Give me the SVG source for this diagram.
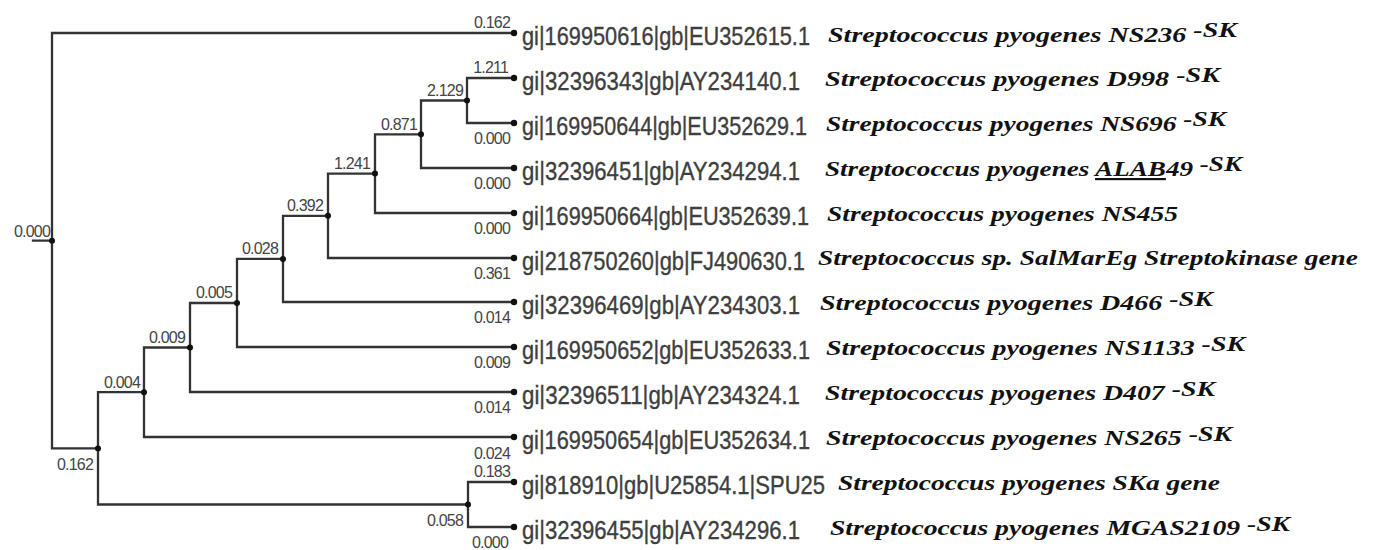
<svg xmlns="http://www.w3.org/2000/svg" width="1373" height="550" viewBox="0 0 1373 550">
<style>
.br{fill:none;stroke:#333;stroke-width:2.3;stroke-linecap:square}
.dot{fill:#111}
.bl{font-family:"Liberation Sans",Arial,sans-serif;font-size:16px;fill:#444;letter-spacing:-0.8px;text-anchor:end}
.id{font-family:"Liberation Sans",Arial,sans-serif;font-size:25px;fill:#3e3e3e;stroke:#3e3e3e;stroke-width:0.35}
.sp{font-family:"Liberation Serif","Times New Roman",serif;font-size:22px;font-weight:bold;font-style:italic;fill:#111}
</style>
<rect width="1373" height="550" fill="#fff"/>
<g id="connectors">
<path class="br" d="M33,240.7H52 M52,33V448.4 M52,33H513 M52,448.4H98
M98,392.2V504.5 M98,392.2H144 M98,504.5H468
M144,347.5V437 M144,347.5H190 M144,437H513
M190,303V392 M190,303H237 M190,392H513
M237,258.9V347 M237,258.9H283 M237,347H513
M283,215.8V302 M283,215.8H328 M283,302H513
M328,173.6V258 M328,173.6H375 M328,258H513
M375,134.3V213 M375,134.3H421 M375,213H513
M421,100.5V168 M421,100.5H467 M421,168H513
M467,78V123 M467,78H513 M467,123H513
M468,482V527 M468,482H513 M468,527H513"/>
</g>
<g id="root"><circle class="dot" cx="52" cy="240.7" r="3"/><text class="bl" x="50" y="237">0.000</text></g>
<g id="nodeA"><circle class="dot" cx="98" cy="448.4" r="3"/><text class="bl" x="93" y="470">0.162</text></g>
<g id="nodeB"><circle class="dot" cx="144" cy="392.2" r="3"/><text class="bl" x="140" y="388">0.004</text></g>
<g id="nodeC"><circle class="dot" cx="190" cy="347.5" r="3"/><text class="bl" x="185" y="343">0.009</text></g>
<g id="nodeD"><circle class="dot" cx="237" cy="303" r="3"/><text class="bl" x="232" y="298">0.005</text></g>
<g id="nodeE"><circle class="dot" cx="283" cy="258.9" r="3"/><text class="bl" x="278" y="254">0.028</text></g>
<g id="nodeF"><circle class="dot" cx="328" cy="215.8" r="3"/><text class="bl" x="323" y="211">0.392</text></g>
<g id="nodeG"><circle class="dot" cx="375" cy="173.6" r="3"/><text class="bl" x="370" y="169">1.241</text></g>
<g id="nodeH"><circle class="dot" cx="421" cy="134.3" r="3"/><text class="bl" x="417" y="130">0.871</text></g>
<g id="nodeI"><circle class="dot" cx="467" cy="100.5" r="3"/><text class="bl" x="463" y="96">2.129</text></g>
<g id="nodeL"><circle class="dot" cx="468" cy="504.5" r="3"/><text class="bl" x="463" y="526">0.058</text></g>

<g id="leaf1"><circle class="dot" cx="514" cy="33" r="3.2"/><text class="bl" x="510" y="28">0.162</text>
<text class="id" x="522" y="45" textLength="288" lengthAdjust="spacingAndGlyphs">gi|169950616|gb|EU352615.1</text>
<text class="sp" x="828" y="42" textLength="409" lengthAdjust="spacingAndGlyphs">Streptococcus pyogenes NS236 <tspan dy="-5">-SK</tspan></text></g>

<g id="leaf2"><circle class="dot" cx="514" cy="78" r="3.2"/><text class="bl" x="508" y="73">1.211</text>
<text class="id" x="522" y="90" textLength="278" lengthAdjust="spacingAndGlyphs">gi|32396343|gb|AY234140.1</text>
<text class="sp" x="825" y="86" textLength="395" lengthAdjust="spacingAndGlyphs">Streptococcus pyogenes D998 <tspan dy="-4">-SK</tspan></text></g>

<g id="leaf3"><circle class="dot" cx="514" cy="123" r="3.2"/><text class="bl" x="510" y="144">0.000</text>
<text class="id" x="522" y="135" textLength="285" lengthAdjust="spacingAndGlyphs">gi|169950644|gb|EU352629.1</text>
<text class="sp" x="826" y="131" textLength="400" lengthAdjust="spacingAndGlyphs">Streptococcus pyogenes NS696 <tspan dy="-5">-SK</tspan></text></g>

<g id="leaf4"><circle class="dot" cx="514" cy="168" r="3.2"/><text class="bl" x="510" y="189">0.000</text>
<text class="id" x="522" y="180" textLength="278" lengthAdjust="spacingAndGlyphs">gi|32396451|gb|AY234294.1</text>
<text class="sp" x="825" y="176" textLength="417" lengthAdjust="spacingAndGlyphs">Streptococcus pyogenes <tspan text-decoration="underline">ALAB</tspan>49 <tspan dy="-5">-SK</tspan></text></g>

<g id="leaf5"><circle class="dot" cx="514" cy="213" r="3.2"/><text class="bl" x="510" y="234">0.000</text>
<text class="id" x="522" y="225" textLength="287" lengthAdjust="spacingAndGlyphs">gi|169950664|gb|EU352639.1</text>
<text class="sp" x="827" y="221" textLength="351" lengthAdjust="spacingAndGlyphs">Streptococcus pyogenes NS455</text></g>

<g id="leaf6"><circle class="dot" cx="514" cy="258" r="3.2"/><text class="bl" x="510" y="279">0.361</text>
<text class="id" x="522" y="270" textLength="283" lengthAdjust="spacingAndGlyphs">gi|218750260|gb|FJ490630.1</text>
<text class="sp" x="818" y="265" textLength="540" lengthAdjust="spacingAndGlyphs">Streptococcus sp. SalMarEg Streptokinase gene</text></g>

<g id="leaf7"><circle class="dot" cx="514" cy="302" r="3.2"/><text class="bl" x="510" y="323">0.014</text>
<text class="id" x="522" y="314" textLength="278" lengthAdjust="spacingAndGlyphs">gi|32396469|gb|AY234303.1</text>
<text class="sp" x="820" y="310" textLength="393" lengthAdjust="spacingAndGlyphs">Streptococcus pyogenes D466 <tspan dy="-4">-SK</tspan></text></g>

<g id="leaf8"><circle class="dot" cx="514" cy="347" r="3.2"/><text class="bl" x="510" y="368">0.009</text>
<text class="id" x="522" y="359" textLength="288" lengthAdjust="spacingAndGlyphs">gi|169950652|gb|EU352633.1</text>
<text class="sp" x="826" y="355" textLength="419" lengthAdjust="spacingAndGlyphs">Streptococcus pyogenes NS1133 <tspan dy="-4">-SK</tspan></text></g>

<g id="leaf9"><circle class="dot" cx="514" cy="392" r="3.2"/><text class="bl" x="510" y="413">0.014</text>
<text class="id" x="522" y="404" textLength="278" lengthAdjust="spacingAndGlyphs">gi|32396511|gb|AY234324.1</text>
<text class="sp" x="825" y="400" textLength="390" lengthAdjust="spacingAndGlyphs">Streptococcus pyogenes D407 <tspan dy="-4">-SK</tspan></text></g>

<g id="leaf10"><circle class="dot" cx="514" cy="437" r="3.2"/><text class="bl" x="510" y="459">0.024</text>
<text class="id" x="522" y="449" textLength="288" lengthAdjust="spacingAndGlyphs">gi|169950654|gb|EU352634.1</text>
<text class="sp" x="826" y="445" textLength="406" lengthAdjust="spacingAndGlyphs">Streptococcus pyogenes NS265 <tspan dy="-4">-SK</tspan></text></g>

<g id="leaf11"><circle class="dot" cx="514" cy="482" r="3.2"/><text class="bl" x="510" y="477">0.183</text>
<text class="id" x="522" y="494" textLength="303" lengthAdjust="spacingAndGlyphs">gi|818910|gb|U25854.1|SPU25</text>
<text class="sp" x="838" y="490" textLength="382" lengthAdjust="spacingAndGlyphs">Streptococcus pyogenes SKa gene</text></g>

<g id="leaf12"><circle class="dot" cx="514" cy="527" r="3.2"/><text class="bl" x="508" y="548">0.000</text>
<text class="id" x="522" y="539" textLength="278" lengthAdjust="spacingAndGlyphs">gi|32396455|gb|AY234296.1</text>
<text class="sp" x="830" y="535" textLength="460" lengthAdjust="spacingAndGlyphs">Streptococcus pyogenes MGAS2109 <tspan dy="-4">-SK</tspan></text></g>
</svg>
